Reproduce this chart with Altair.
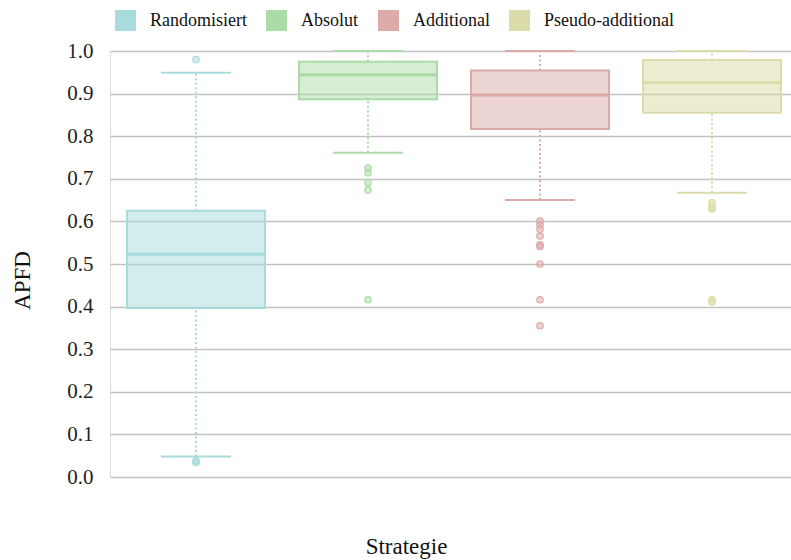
import altair as alt
import pandas as pd

# Box-plot summary per strategy
strategies = ["Randomisiert", "Absolut", "Additional", "Pseudo-additional"]
colors = ["#a8dcdc", "#abdca8", "#dcaba8", "#dcdcaa"]
whisker_low = [0.048, 0.761, 0.650, 0.667]
q1 = [0.397, 0.887, 0.817, 0.855]
median = [0.523, 0.944, 0.897, 0.926]
q3 = [0.625, 0.975, 0.954, 0.979]
whisker_high = [0.949, 1.0, 1.0, 1.0]

# Outliers per strategy
outliers_random = [0.980, 0.038, 0.034]
outliers_absolut = [0.725, 0.714, 0.691, 0.674, 0.416]
outliers_additional = [0.601, 0.592, 0.582, 0.566, 0.545, 0.541, 0.500, 0.416, 0.355]
outliers_pseudo = [0.644, 0.634, 0.629, 0.416, 0.411]

FONT = "Liberation Serif, Times New Roman, serif"

stats = pd.DataFrame({
    "Strategie": strategies,
    "lo": whisker_low,
    "q1": q1,
    "med": median,
    "q3": q3,
    "hi": whisker_high,
})

outlier_rows = []
for name, vals in zip(strategies, [outliers_random, outliers_absolut,
                                   outliers_additional, outliers_pseudo]):
    for v in vals:
        outlier_rows.append({"Strategie": name, "APFD": v})
outliers = pd.DataFrame(outlier_rows)

x = alt.X(
    "Strategie:N",
    sort=strategies,
    scale=alt.Scale(domain=strategies, range=[0, 688], paddingInner=0, paddingOuter=0),
    axis=alt.Axis(
        labels=False, ticks=False, domain=False, grid=False,
        title="Strategie", titleFont=FONT, titleFontSize=23, titleFontWeight="normal",
        titleColor="#111111", titleX=296, titleY=69, titleAlign="center",
        titleBaseline="middle",
    ),
)
yscale = alt.Scale(domain=[0, 1], nice=False, zero=False)
yaxis = alt.Axis(
    values=[0, 0.1, 0.2, 0.3, 0.4, 0.5, 0.6, 0.7, 0.8, 0.9, 1.0],
    format=".1f", ticks=False, domain=False, grid=True,
    gridColor="#c2c2c2", gridWidth=1.5,
    labelFont=FONT, labelFontSize=21, labelColor="#222222", labelPadding=17,
    title="APFD", titleFont=FONT, titleFontSize=23, titleFontWeight="normal",
    titleColor="#111111", titleX=-88, titleY=229, titleAlign="center",
    titleBaseline="middle", titleAngle=-90,
)

cscale = alt.Scale(domain=strategies, range=colors)

boxes = alt.Chart(stats).mark_bar(size=138, fillOpacity=0.5, strokeWidth=2).encode(
    x=x,
    y=alt.Y("q1:Q", scale=yscale, axis=yaxis),
    y2="q3:Q",
    fill=alt.Fill(
        "Strategie:N", scale=cscale, sort=strategies,
        legend=alt.Legend(
            title=None, orient="none", legendX=5, legendY=-41, direction="horizontal",
            symbolType="square", symbolSize=441, symbolOpacity=1, symbolStrokeWidth=0,
            labelFont=FONT, labelFontSize=18, labelColor="#111111",
            labelOffset=14, columnPadding=19, padding=0,
        ),
    ),
    stroke=alt.Stroke("Strategie:N", scale=cscale, legend=None),
)

whisk_hi = alt.Chart(stats).mark_rule(strokeWidth=2, strokeDash=[2, 2.5]).encode(
    x=x, y=alt.Y("q3:Q", scale=yscale), y2="hi:Q",
    stroke=alt.Stroke("Strategie:N", scale=cscale, legend=None),
)
whisk_lo = alt.Chart(stats).mark_rule(strokeWidth=2, strokeDash=[2, 2.5]).encode(
    x=x, y=alt.Y("lo:Q", scale=yscale), y2="q1:Q",
    stroke=alt.Stroke("Strategie:N", scale=cscale, legend=None),
)
cap_hi = alt.Chart(stats).mark_tick(size=70, thickness=2, opacity=1).encode(
    x=x, y=alt.Y("hi:Q", scale=yscale),
    color=alt.Color("Strategie:N", scale=cscale, legend=None),
)
cap_lo = alt.Chart(stats).mark_tick(size=70, thickness=2, opacity=1).encode(
    x=x, y=alt.Y("lo:Q", scale=yscale),
    color=alt.Color("Strategie:N", scale=cscale, legend=None),
)
med = alt.Chart(stats).mark_tick(size=138, thickness=3, opacity=1).encode(
    x=x, y=alt.Y("med:Q", scale=yscale),
    color=alt.Color("Strategie:N", scale=cscale, legend=None),
)
pts = alt.Chart(outliers).mark_circle(size=42, fillOpacity=0.55, strokeOpacity=1,
                                       strokeWidth=1.2, opacity=1).encode(
    x=x, y=alt.Y("APFD:Q", scale=yscale),
    fill=alt.Fill("Strategie:N", scale=cscale, legend=None),
    stroke=alt.Stroke("Strategie:N", scale=cscale, legend=None),
)

chart = alt.layer(boxes, whisk_hi, whisk_lo, cap_hi, cap_lo, med, pts).properties(
    width=681,
    height=426,
    autosize=alt.AutoSizeParams(type="none"),
    padding={"left": 110, "top": 51, "right": 0, "bottom": 83},
).configure_view(stroke=None).configure(background="white")

chart.save("out.html", embed_options={"renderer": "svg", "actions": False})
